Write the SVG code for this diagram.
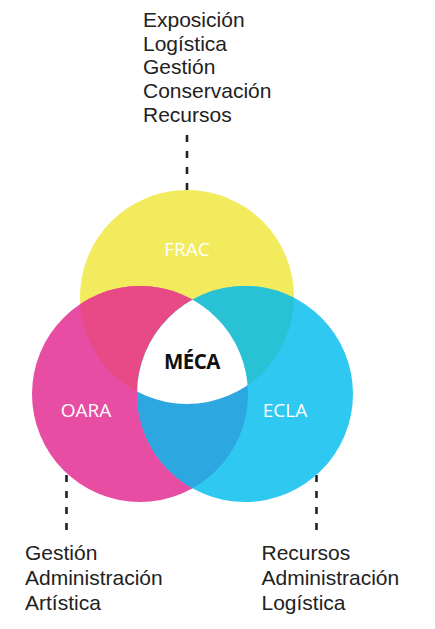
<svg xmlns="http://www.w3.org/2000/svg" width="435" height="629" viewBox="0 0 435 629">
<style>
.lbl{font-family:"Liberation Sans",Arial,sans-serif;font-size:21px;fill:#222}
.cl{font-family:"Open Sans","Noto Sans",sans-serif;font-size:19px;fill:#fff}
.dash{stroke:#222;stroke-width:2.6;stroke-dasharray:7 9;fill:none}
</style>
<defs>
<clipPath id="cY"><circle cx="187" cy="297" r="107"/></clipPath>
<clipPath id="cP"><circle cx="140" cy="394" r="108"/></clipPath>
<clipPath id="cB"><circle cx="245" cy="394" r="108"/></clipPath>
</defs>
<g id="connectors">
<line class="dash" x1="187" y1="135" x2="187" y2="192"/>
<line class="dash" x1="66.5" y1="475" x2="66.5" y2="530"/>
<line class="dash" x1="316.5" y1="475" x2="316.5" y2="530"/>
</g>
<g id="frac">
<circle cx="187" cy="297" r="107" fill="#F2EB5E"/>
</g>
<g id="oara">
<circle cx="140" cy="394" r="108" fill="#E74DA3"/>
</g>
<g id="ecla">
<circle cx="245" cy="394" r="108" fill="#2FC8F1"/>
</g>
<g id="overlaps">
<circle cx="140" cy="394" r="108" fill="#E84A86" clip-path="url(#cY)"/>
<circle cx="245" cy="394" r="108" fill="#29C2D5" clip-path="url(#cY)"/>
<circle cx="245" cy="394" r="108" fill="#2CA7E0" clip-path="url(#cP)"/>
<g clip-path="url(#cY)"><circle cx="245" cy="394" r="108" fill="#fff" clip-path="url(#cP)"/></g>
</g>
<g id="labels">
<text class="cl" x="187" y="256" text-anchor="middle">FRAC</text>
<text class="cl" x="86" y="417" text-anchor="middle">OARA</text>
<text class="cl" x="285" y="417" text-anchor="middle">ECLA</text>
</g>
<g id="meca">
<text x="192" y="369" text-anchor="middle" font-family="'Open Sans','Noto Sans',sans-serif" font-weight="bold" font-size="20.5" fill="#111" letter-spacing="-0.5">MÉCA</text>
</g>
<g id="top-text">
<text class="lbl" x="143" y="27">Exposición</text>
<text class="lbl" x="143" y="50.5">Logística</text>
<text class="lbl" x="143" y="74">Gestión</text>
<text class="lbl" x="143" y="98">Conservación</text>
<text class="lbl" x="143" y="122">Recursos</text>
</g>
<g id="left-text">
<text class="lbl" x="25" y="560">Gestión</text>
<text class="lbl" x="25" y="585">Administración</text>
<text class="lbl" x="25" y="610">Artística</text>
</g>
<g id="right-text">
<text class="lbl" x="261.5" y="560">Recursos</text>
<text class="lbl" x="261.5" y="585">Administración</text>
<text class="lbl" x="261.5" y="610">Logística</text>
</g>
</svg>
